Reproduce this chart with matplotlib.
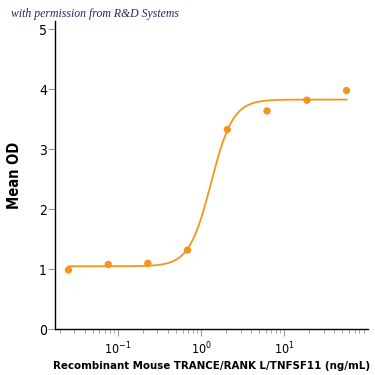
import numpy as np
import matplotlib
matplotlib.use('agg')
import matplotlib.pyplot as plt
from matplotlib.ticker import LogLocator, NullFormatter

# dose (ng/mL) and mean OD
conc = [0.0256, 0.077, 0.23, 0.69, 2.07, 6.2, 18.7, 56]
od = [0.99, 1.08, 1.10, 1.32, 3.33, 3.64, 3.82, 3.98]

# 4PL fit parameters for the curve
bottom, top, ec50, hill = 1.05, 3.83, 1.32, 3.3

orange = '#F7941D'

plt.rcParams['font.family'] = ['DejaVu Sans']
plt.rcParams['font.stretch'] = 'condensed'

fig = plt.figure(figsize=(3.75, 3.75), dpi=100)
ax = fig.add_axes([0.147, 0.122, 0.834, 0.822])

xs = np.logspace(np.log10(conc[0]), np.log10(conc[-1]), 300)
ys = bottom + (top - bottom) / (1 + (ec50 / xs) ** hill)
ax.plot(xs, ys, color=orange, lw=1.3)
ax.scatter(conc, od, color=orange, s=28, zorder=3, edgecolors='none')

ax.set_xscale('log')
ax.set_xlim(0.0177, 101)
ax.set_yticks([0, 1, 2, 3, 4, 5])
ax.set_xticks([0.1, 1, 10])
ax.set_xticklabels(['10$^{-1}$', '10$^{0}$', '10$^{1}$'])
ax.xaxis.set_minor_locator(LogLocator(base=10, subs=np.arange(2, 10), numticks=20))
ax.xaxis.set_minor_formatter(NullFormatter())

for s in ['top', 'right']:
    ax.spines[s].set_visible(False)
ax.spines['left'].set_linewidth(1.0)
ax.spines['bottom'].set_linewidth(1.0)
ax.set_ylim(0, 5.14)

ax.tick_params(axis='y', which='major', length=5, width=0.8, color='#999999',
               labelsize=10, pad=1)
ax.tick_params(axis='x', which='major', length=5, width=0.8, color='#999999',
               labelsize=9, pad=3, direction='out')
ax.tick_params(axis='x', which='minor', length=3, width=0.6, color='#999999')

ax.set_ylabel('Mean OD', fontsize=10.5, fontweight='bold', labelpad=12)
ax.set_xlabel('Recombinant Mouse TRANCE/RANK L/TNFSF11 (ng/mL)', fontsize=8.2,
              fontweight='bold', labelpad=3)

fig.text(0.03, 0.955, 'with permission from R&D Systems', fontsize=8.5,
         family=['Liberation Serif', 'DejaVu Serif'], style='italic', color='#1f2a5a')

plt.savefig('out.png', dpi=100)
plt.close()
